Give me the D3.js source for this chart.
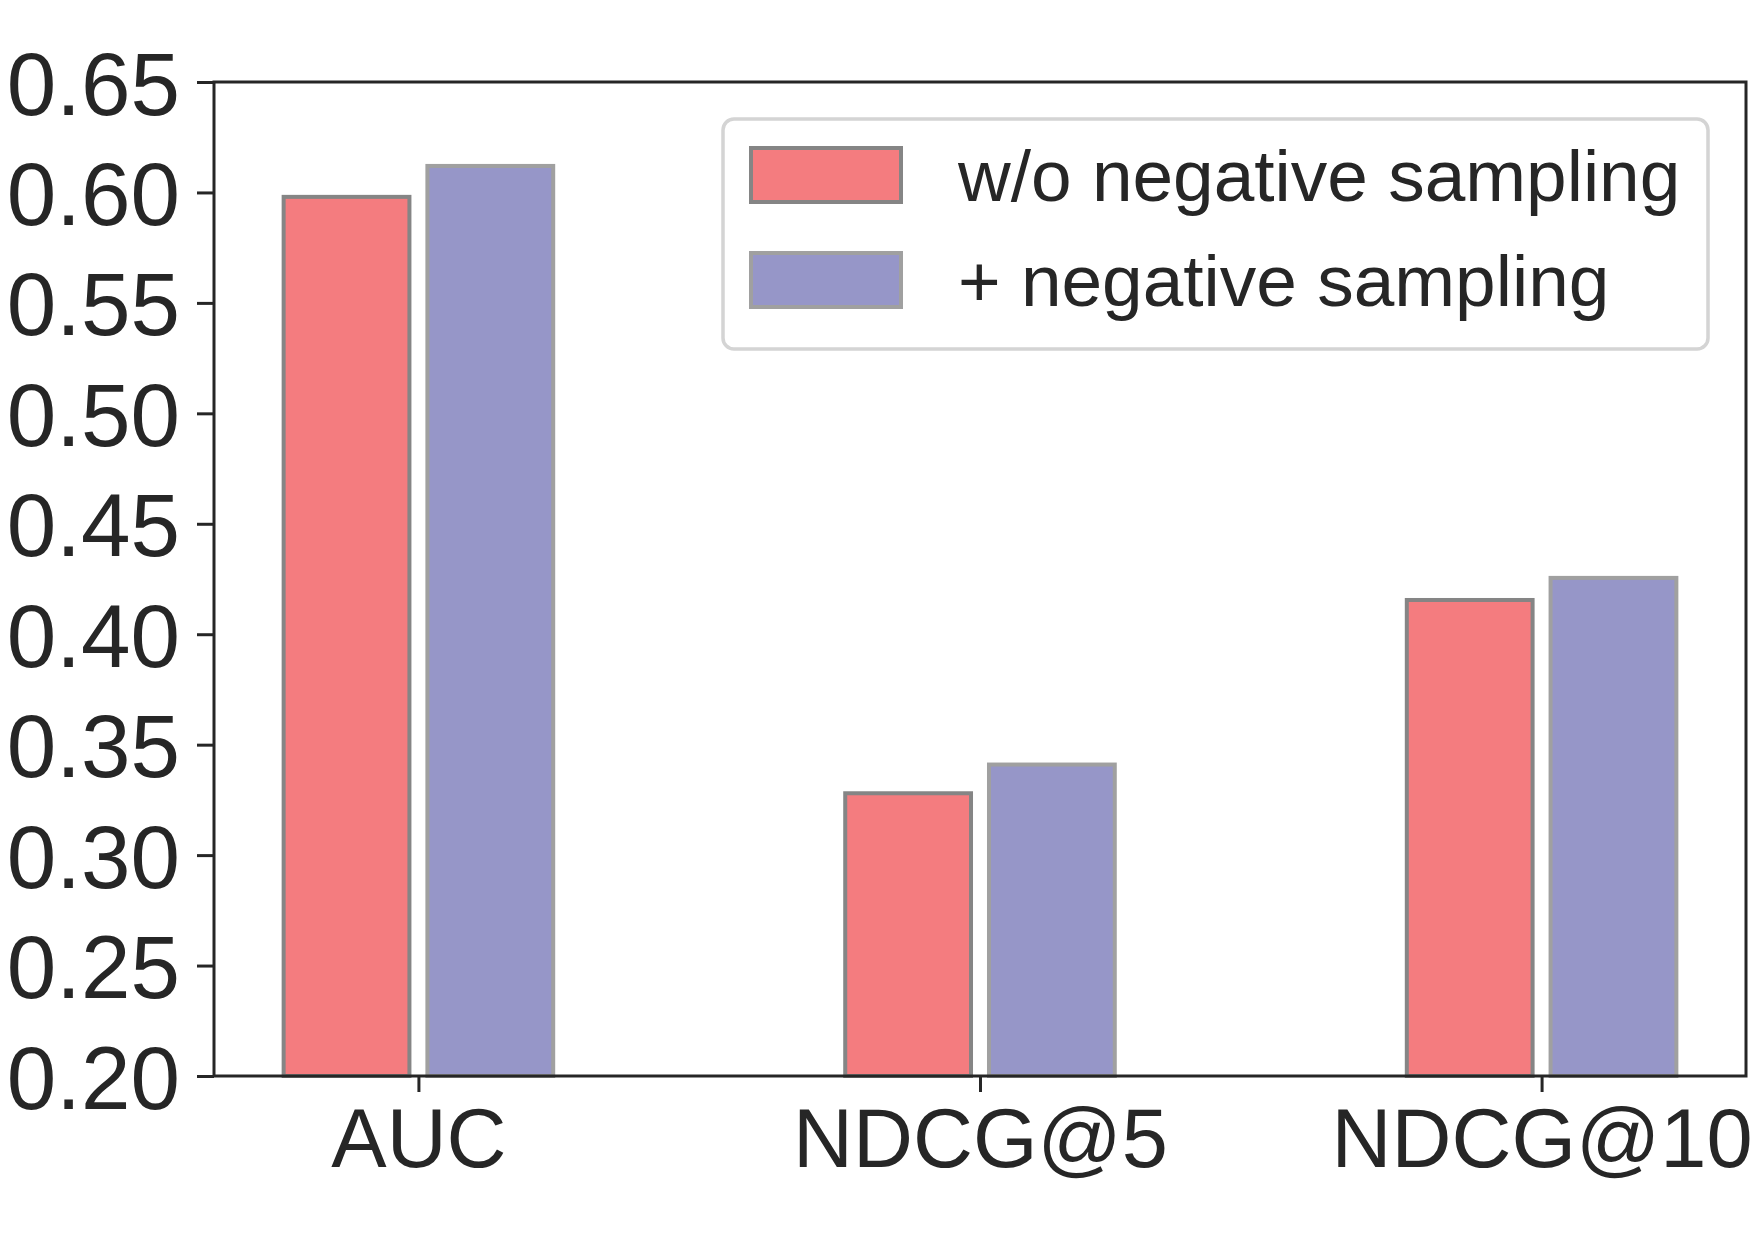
<!DOCTYPE html>
<html lang="en">
<head>
  <meta charset="UTF-8">
  <title>Negative sampling bar chart</title>
  <style>
    body {
      margin: 0;
      background: #fff;
      font-family: 'Liberation Sans', Arial, sans-serif;
    }
    .axis text {
      fill: #262626;
      font-family: 'Liberation Sans', Arial, sans-serif;
    }
    .axis path, .axis line {
      stroke: #262626;
      stroke-width: 3px;
    }
    .legend-label {
      fill: #262626;
      font-size: 73px;
    }
  </style>
  <script src="https://d3js.org/d3.v7.min.js"></script>
</head>
<body>
<svg width="1755" height="1241"></svg>
<script>
  // data
  const categories = ['AUC', 'NDCG@5', 'NDCG@10'];
  const seriesNames = ['w/o negative sampling', '+ negative sampling'];
  const withoutNeg = [0.598, 0.328, 0.4155];
  const withNeg = [0.612, 0.341, 0.4255];
  const yTicks = [0.20, 0.25, 0.30, 0.35, 0.40, 0.45, 0.50, 0.55, 0.60, 0.65];

  const fills = ['#f47c7f', '#9696c8'];
  const edges = ['#858585', '#a0a0a0'];

  const svg = d3.select("svg");
  const plotLeft = 214, plotRight = 1746, plotTop = 82, plotBottom = 1076;

  const x = d3.scaleLinear().domain([-0.364, 2.364]).range([plotLeft, plotRight]);
  const y = d3.scaleLinear().domain([0.20, 0.65]).range([plotBottom, plotTop]);

  const offset = 0.128, barW = 0.224;
  const series = [withoutNeg, withNeg];

  // bars
  const plot = svg.append("g");
  series.forEach((vals, s) => {
    plot.selectAll(".bar" + s)
      .data(vals)
      .enter().append("rect")
      .attr("class", "bar" + s)
      .attr("x", (d, i) => x(i + (s === 0 ? -offset : offset) - barW / 2))
      .attr("width", x(barW) - x(0))
      .attr("y", d => y(d))
      .attr("height", d => y(0.20) - y(d))
      .attr("fill", fills[s])
      .attr("stroke", edges[s])
      .attr("stroke-width", 4);
  });

  // frame
  svg.append("rect")
    .attr("x", plotLeft).attr("y", plotTop)
    .attr("width", plotRight - plotLeft).attr("height", plotBottom - plotTop)
    .attr("fill", "none")
    .attr("stroke", "#262626")
    .attr("stroke-width", 3);

  // y axis
  const yAxis = svg.append("g")
    .attr("class", "axis")
    .attr("transform", `translate(${plotLeft},0)`)
    .call(d3.axisLeft(y).tickValues(yTicks).tickFormat(d3.format(".2f")).tickSize(17).tickPadding(17));
  yAxis.select(".domain").remove();
  yAxis.selectAll("text").style("font-size", "89px").attr("dy", "0.36em");

  // x axis
  const xAxis = svg.append("g")
    .attr("class", "axis")
    .attr("transform", `translate(0,${plotBottom})`)
    .call(d3.axisBottom(x).tickValues([0, 1, 2]).tickFormat(i => categories[i]).tickSize(16).tickPadding(16));
  xAxis.select(".domain").remove();
  xAxis.selectAll("text").style("font-size", "83px");

  // legend
  const legend = svg.append("g");
  legend.append("rect")
    .attr("x", 723).attr("y", 119)
    .attr("width", 985).attr("height", 230)
    .attr("rx", 11)
    .attr("fill", "#fff")
    .attr("stroke", "#d4d4d4")
    .attr("stroke-width", 3.5);

  seriesNames.forEach((name, s) => {
    const cy = 175 + s * 105;
    legend.append("rect")
      .attr("x", 751).attr("y", cy - 27)
      .attr("width", 150).attr("height", 54)
      .attr("fill", fills[s])
      .attr("stroke", edges[s])
      .attr("stroke-width", 4);
    legend.append("text")
      .attr("class", "legend-label")
      .attr("x", 958).attr("y", cy)
      .attr("dy", "0.36em")
      .text(name);
  });
</script>
</body>
</html>
